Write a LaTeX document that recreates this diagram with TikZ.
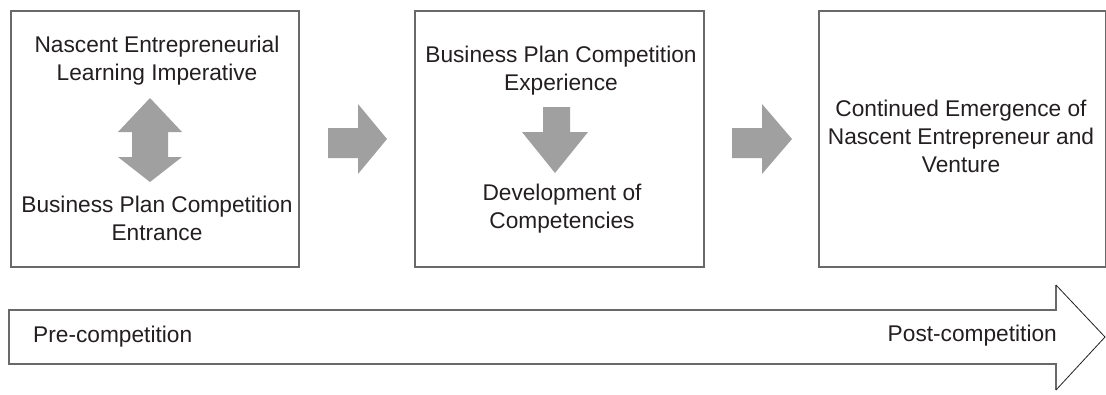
\documentclass[tikz,border=0pt]{standalone}
\usepackage{fontspec}
\setmainfont{Liberation Sans}
\usetikzlibrary{positioning}

\definecolor{arrowgray}{RGB}{160,160,160}
\definecolor{framegray}{RGB}{105,105,105}
\definecolor{inkgray}{RGB}{35,31,32}

\begin{document}
\begin{tikzpicture}[x=1pt,y=-1pt,
  stagebox/.style={draw=framegray, line width=2.2pt, anchor=north west, inner sep=0pt,
    minimum height=256pt},
  stagetext/.style={text=inkgray, align=center, inner sep=0pt,
    font=\fontsize{22.7}{28}\selectfont},
  blockarrow/.style={fill=arrowgray}]
  \useasboundingbox (0,0) rectangle (1106,394);

  % Stage boxes
  \node[stagebox, minimum width=288pt] (entry) at (10,10) {};
  \node[stagebox, minimum width=289pt] (experience) at (414,10) {};
  \node[stagebox, minimum width=287pt] (emergence) at (818,10) {};

  % Texts of the first stage
  \node[stagetext] (imperative) at (157,61) {Nascent Entrepreneurial\\Learning Imperative};
  \node[stagetext] (entrance) at (157,218.5) {Business Plan Competition\\Entrance};
  % Texts of the second stage
  \node[stagetext] (bpcexp) at (561,70.5) {Business Plan Competition\\Experience};
  \node[stagetext] (competencies) at (562,209) {Development of\\Competencies};
  % Text of the third stage
  \node[stagetext] (venture) at (961,136) {Continued Emergence of\\Nascent Entrepreneur and\\Venture};

  % Up and down arrow
  \fill[blockarrow] (150,98) -- (182,132) -- (168,132) -- (168,157) -- (182,157)
    -- (150,182) -- (118,157) -- (132,157) -- (132,132) -- (118,132) -- cycle;
  % Down arrow
  \fill[blockarrow] (543,107) -- (570,107) -- (570,132) -- (588,132)
    -- (555,173) -- (522,132) -- (543,132) -- cycle;
  % Arrows between the stages
  \fill[blockarrow] (328,128) -- (358,128) -- (358,104) -- (387,139)
    -- (358,174) -- (358,158) -- (328,158) -- cycle;
  \fill[blockarrow] (732,128) -- (762,128) -- (762,104) -- (792,139)
    -- (762,174) -- (762,158) -- (732,158) -- cycle;

  % Time line
  \draw[framegray, line width=2.2pt] (1056,285) -- (1056,310) -- (9,310) -- (9,364)
    -- (1056,364) -- (1056,390);
  \draw[inkgray, line width=0.8pt] (1056,285) -- (1105,337) -- (1056,390);
  \node[stagetext, anchor=west] (pre) at (33,337) {Pre-competition};
  \node[stagetext, anchor=east] (post) at (1057,336) {Post-competition};
\end{tikzpicture}
\end{document}
